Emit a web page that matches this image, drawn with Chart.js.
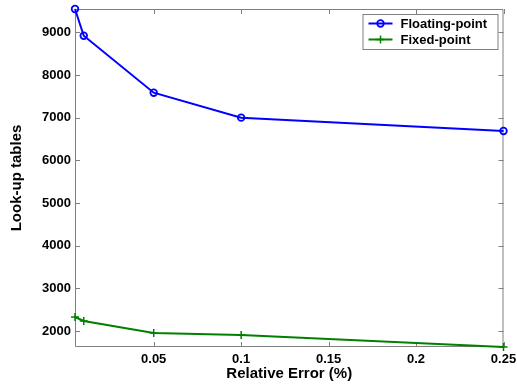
<!DOCTYPE html>
<html>
<head>
<meta charset="utf-8">
<script src="https://cdn.jsdelivr.net/npm/chart.js@4/dist/chart.umd.min.js"></script>
<style>
  html, body { margin: 0; padding: 0; background: #fff; }
  #wrap { width: 517px; height: 388px; }
</style>
</head>
<body>
<div id="wrap"><canvas id="chart" width="517" height="388"></canvas></div>
<script>
(function () {
    'use strict';

    // relative error (%) on the x axis
    var errors = [0.005, 0.01, 0.05, 0.1, 0.25];
    var floatingPoint = [9546, 8920, 7585, 7000, 6687];
    var fixedPoint = [2328, 2234, 1953, 1906, 1625];

    var xTicks = [0.05, 0.1, 0.15, 0.2, 0.25];
    var yTicks = [2000, 3000, 4000, 5000, 6000, 7000, 8000, 9000];

    var FONT = '"Liberation Sans", Arial, Helvetica, sans-serif';
    var AXIS_GRAY = '#808080';

    function points (ys) {
        return errors.map(function (x, i) {
            return { x: x, y: ys[i] };
        });
    }

    // axes box with inward ticks on all four sides, matlab style
    var boxPlugin = {
        id: 'box',
        beforeDatasetsDraw: function (chart) {
            var ctx = chart.ctx,
                a = chart.chartArea,
                xs = chart.scales.x,
                ys = chart.scales.y,
                len = 5;

            ctx.save();
            ctx.strokeStyle = AXIS_GRAY;
            ctx.lineWidth = 1;
            ctx.beginPath();
            ctx.rect(a.left + 0.5, a.top + 0.5, a.right - a.left - 1, a.bottom - a.top - 1);

            xTicks.forEach(function (v) {
                var px = Math.round(xs.getPixelForValue(v)) + 0.5;
                ctx.moveTo(px, a.bottom);
                ctx.lineTo(px, a.bottom - len);
                ctx.moveTo(px, a.top);
                ctx.lineTo(px, a.top + len);
            });
            yTicks.forEach(function (v) {
                var py = Math.round(ys.getPixelForValue(v)) + 0.5;
                ctx.moveTo(a.left, py);
                ctx.lineTo(a.left + len, py);
                ctx.moveTo(a.right, py);
                ctx.lineTo(a.right - len, py);
            });
            ctx.stroke();
            ctx.restore();
        }
    };

    // legend box in the upper right corner of the axes
    var legendPlugin = {
        id: 'boxLegend',
        afterDraw: function (chart) {
            var ctx = chart.ctx,
                a = chart.chartArea,
                boxW = 135,
                boxH = 35,
                left = a.right - 6 - boxW,
                top = a.top + 5;

            ctx.save();
            ctx.fillStyle = '#fff';
            ctx.fillRect(left, top, boxW, boxH);
            ctx.strokeStyle = AXIS_GRAY;
            ctx.lineWidth = 1;
            ctx.strokeRect(left + 0.5, top + 0.5, boxW, boxH);

            ctx.font = 'bold 13px ' + FONT;
            ctx.textBaseline = 'middle';
            ctx.textAlign = 'left';

            chart.data.datasets.forEach(function (ds, i) {
                var cy = top + 9.5 + i * 16,
                    x0 = left + 6,
                    x1 = left + 30,
                    mx = (x0 + x1) / 2;

                ctx.strokeStyle = ds.borderColor;
                ctx.lineWidth = 2;
                ctx.beginPath();
                ctx.moveTo(x0, cy);
                ctx.lineTo(x1, cy);
                ctx.stroke();

                ctx.lineWidth = ds.pointBorderWidth;
                ctx.beginPath();
                if (ds.pointStyle === 'circle') {
                    ctx.arc(mx, cy, ds.pointRadius, 0, Math.PI * 2);
                } else {
                    ctx.moveTo(mx - ds.pointRadius, cy);
                    ctx.lineTo(mx + ds.pointRadius, cy);
                    ctx.moveTo(mx, cy - ds.pointRadius);
                    ctx.lineTo(mx, cy + ds.pointRadius);
                }
                ctx.stroke();

                ctx.fillStyle = '#000';
                ctx.fillText(ds.label, left + 38, cy + 0.5);
            });
            ctx.restore();
        }
    };

    new Chart(document.getElementById('chart'), {
        type: 'line',
        data: {
            datasets: [{
                label: 'Floating-point',
                data: points(floatingPoint),
                borderColor: '#0000ff',
                borderWidth: 2,
                pointStyle: 'circle',
                pointRadius: 3.3,
                pointBorderWidth: 1.8,
                pointBackgroundColor: 'rgba(0,0,0,0)',
                pointBorderColor: '#0000ff',
                tension: 0,
                clip: false
            }, {
                label: 'Fixed-point',
                data: points(fixedPoint),
                borderColor: '#008000',
                borderWidth: 2,
                pointStyle: 'cross',
                pointRadius: 4,
                pointBorderWidth: 1.5,
                pointBorderColor: '#008000',
                tension: 0,
                clip: false
            }]
        },
        options: {
            responsive: false,
            animation: false,
            devicePixelRatio: 1,
            layout: { padding: { top: 9, right: 13.5, left: 0, bottom: 0 } },
            plugins: {
                legend: { display: false },
                tooltip: { enabled: false }
            },
            scales: {
                x: {
                    type: 'linear',
                    min: errors[0],
                    max: errors[errors.length - 1],
                    afterBuildTicks: function (scale) {
                        scale.ticks = xTicks.map(function (v) { return { value: v }; });
                    },
                    afterFit: function (scale) {
                        scale.height = 41;
                        // labels may hang past the plot edge, keep the fixed margins
                        scale.paddingLeft = 0;
                        scale.paddingRight = 0;
                    },
                    grid: { display: false, drawTicks: false },
                    border: { display: false },
                    ticks: {
                        padding: 5,
                        maxRotation: 0,
                        color: '#000',
                        font: { family: FONT, size: 13, weight: 'bold' },
                        callback: function (v) { return String(v); }
                    },
                    title: {
                        display: true,
                        text: 'Relative Error (%)',
                        color: '#000',
                        font: { family: FONT, size: 15, weight: 'bold' },
                        padding: { top: 0, bottom: 5 }
                    }
                },
                y: {
                    type: 'linear',
                    min: fixedPoint[fixedPoint.length - 1],
                    max: floatingPoint[0],
                    afterBuildTicks: function (scale) {
                        scale.ticks = yTicks.map(function (v) { return { value: v }; });
                    },
                    afterFit: function (scale) {
                        scale.width = 75;
                        scale.paddingTop = 0;
                        scale.paddingBottom = 0;
                    },
                    grid: { display: false, drawTicks: false },
                    border: { display: false },
                    ticks: {
                        padding: 4,
                        color: '#000',
                        font: { family: FONT, size: 13, weight: 'bold' },
                        callback: function (v) { return String(v); }
                    },
                    title: {
                        display: true,
                        text: 'Look-up tables',
                        color: '#000',
                        font: { family: FONT, size: 15, weight: 'bold' },
                        padding: { top: 8, bottom: 0 }
                    }
                }
            }
        },
        plugins: [boxPlugin, legendPlugin]
    });
}());
</script>
</body>
</html>
